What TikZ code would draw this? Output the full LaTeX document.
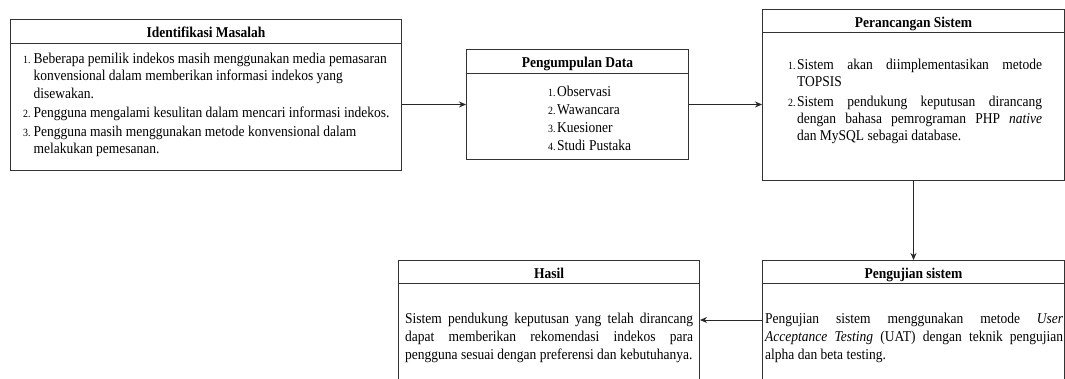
\documentclass[tikz,border=0pt]{standalone}
\usepackage{fontspec}
\setmainfont{Liberation Serif}[FakeStretch=0.9]
\usetikzlibrary{arrows.meta,calc}
\newcommand{\numf}{\fontsize{11}{13}\selectfont}
\newcommand{\jl}[2]{\makebox[#1][s]{#2}}
\tikzset{
  box/.style={draw=black!80, line width=1pt, rectangle, inner sep=0pt, anchor=north west},
  hline/.style={draw=black!80, line width=1pt},
  ttl/.style={font=\fontsize{15}{17}\selectfont\bfseries, anchor=base, inner sep=0pt},
  body/.style={font=\fontsize{15}{17}\selectfont, inner sep=0pt, anchor=base west},
  arr/.style={draw=black!85, line width=1pt, -{Stealth[length=7pt,width=6pt]}}
}
\begin{document}
\begin{tikzpicture}[x=1pt,y=-1pt]
\useasboundingbox (0,0) rectangle (1065,378);
\clip (0,0) rectangle (1065,378);
% boxes
\node[box, minimum width=391pt, minimum height=151pt] (idf) at (10,19) {};
\node[box, minimum width=222pt, minimum height=110pt] (pd) at (466,49) {};
\node[box, minimum width=302pt, minimum height=171pt] (pr) at (762,9) {};
\node[box, minimum width=302pt, minimum height=119pt] (pu) at (762,260) {};
\node[box, minimum width=301pt, minimum height=119pt] (hs) at (398,260) {};
% header lines
\draw[hline] ($(idf.north west)+(0,24)$) -- ($(idf.north east)+(0,24)$);
\draw[hline] ($(pd.north west)+(0,24)$) -- ($(pd.north east)+(0,24)$);
\draw[hline] ($(pr.north west)+(0,23)$) -- ($(pr.north east)+(0,23)$);
\draw[hline] ($(pu.north west)+(0,23)$) -- ($(pu.north east)+(0,23)$);
\draw[hline] ($(hs.north west)+(0,23)$) -- ($(hs.north east)+(0,23)$);
% titles
\node[ttl] (idft) at ($(idf.north)+(0,18)$) {Identifikasi Masalah};
\node[ttl] (pdt) at ($(pd.north)+(0,18)$) {Pengumpulan Data};
\node[ttl] (prt) at ($(pr.north)+(0,18)$) {Perancangan Sistem};
\node[ttl] (put) at ($(pu.north)+(0,18)$) {Pengujian sistem};
\node[ttl] (hst) at ($(hs.north)+(0,18)$) {Hasil};
% bodies
\node[body, font=\fontsize{15}{17.5}\selectfont] (idfb) at (23,63) {\begin{tabular}[t]{@{}l@{\hspace{3pt}}l@{}}
{\numf 1.} & Beberapa pemilik indekos masih menggunakan media pemasaran\\
 & konvensional dalam memberikan informasi indekos yang\\
 & disewakan.\\[2pt]
{\numf 2.} & Pengguna mengalami kesulitan dalam mencari informasi indekos.\\[1pt]
{\numf 3.} & Pengguna masih menggunakan metode konvensional dalam\\
 & melakukan pemesanan.
\end{tabular}};
\node[body] (pdb) at (548,96) {\begin{tabular}[t]{@{}l@{\hspace{1.5pt}}l@{}}
{\numf 1.} & Observasi\\[1pt]
{\numf 2.} & Wawancara\\[1pt]
{\numf 3.} & Kuesioner\\[1pt]
{\numf 4.} & Studi Pustaka
\end{tabular}};
\node[body] (prb) at (788,69) {\begin{tabular}[t]{@{}l@{\hspace{1.5pt}}l@{}}
{\numf 1.} & \jl{245pt}{Sistem akan diimplementasikan metode}\\
 & TOPSIS\\[3pt]
{\numf 2.} & \jl{245pt}{Sistem pendukung keputusan dirancang}\\
 & \jl{245pt}{dengan bahasa pemrograman PHP \textit{native}}\\
 & dan MySQL sebagai database.
\end{tabular}};
\node[body] (hsb) at (405,323) {\begin{tabular}[t]{@{}l@{}}
\jl{288pt}{Sistem pendukung keputusan yang telah dirancang}\\[1pt]
\jl{288pt}{dapat memberikan rekomendasi indekos para}\\[1pt]
pengguna sesuai dengan preferensi dan kebutuhanya.
\end{tabular}};
\node[body] (pub) at (765,323) {\begin{tabular}[t]{@{}l@{}}
\jl{298pt}{Pengujian sistem menggunakan metode \textit{User}}\\[1pt]
\jl{298pt}{\textit{Acceptance Testing} (UAT) dengan teknik pengujian}\\[1pt]
alpha dan beta testing.
\end{tabular}};
% connectors
\draw[arr] (idf.east |- pd.west) -- (pd.west);
\draw[arr] (pd.east) -- (pd.east -| pr.west);
\draw[arr] (pr.south) -- (pu.north);
\draw[arr] (pu.west) -- (pu.west -| hs.east);
\end{tikzpicture}
\end{document}
